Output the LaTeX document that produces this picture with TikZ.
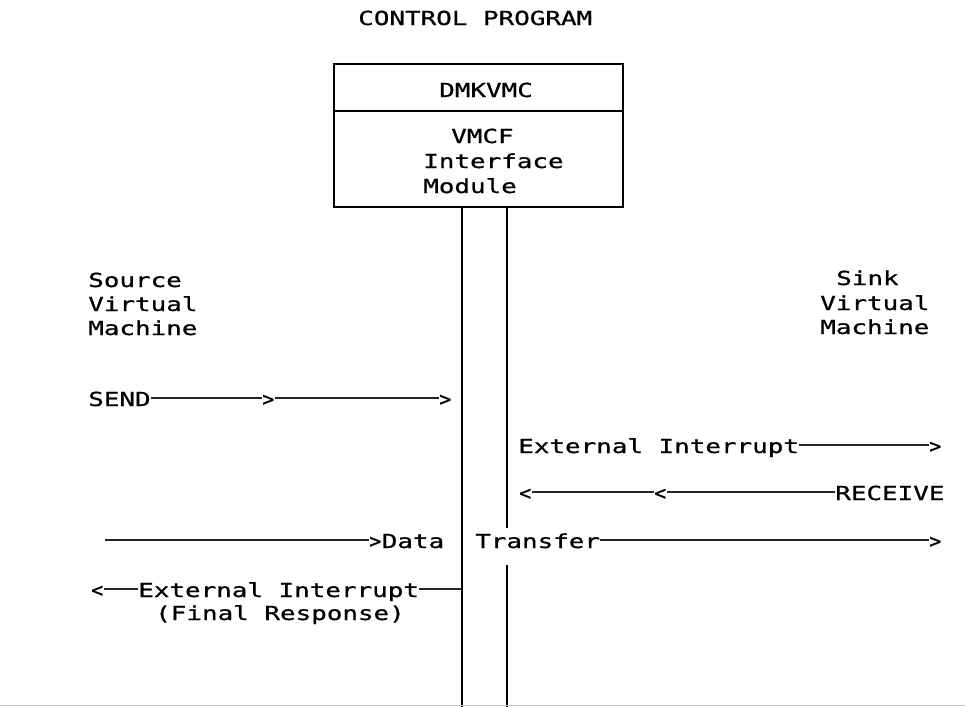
\documentclass[tikz,border=0pt]{standalone}
\usepackage{fontspec}
\setmonofont[FakeStretch=1.34,FakeBold=0.8]{DejaVu Sans Mono}
\newfontfamily\chevfont[FakeBold=0.8]{DejaVu Sans Mono}
\begin{document}
\begin{tikzpicture}[x=0.75pt,y=-0.75pt,
  lbl/.style={inner sep=0pt, anchor=base west, font=\ttfamily\fontsize{14.5pt}{17pt}\selectfont},
  chev/.style={inner sep=0pt, anchor=base west, font=\chevfont\fontsize{15pt}{17pt}\selectfont},
  wire/.style={line width=0.8pt, draw=black!85},
  frame/.style={line width=1.2pt, draw=black}]
\useasboundingbox (0,0) rectangle (965,707);

% control program module box
\node[lbl] (title) at (358,25) {CONTROL PROGRAM};
\node[frame, inner sep=0pt, minimum width=216.75pt, minimum height=107.25pt, anchor=north west] (box) at (333,63) {};
\coordinate (div) at (0,111);
\draw[frame] (box.west |- div) -- (box.east |- div);
\node[lbl] (dmk) at (439,97) {DMKVMC};
\node[lbl] (vmcf) at (451,143) {VMCF};
\node[lbl] (intf) at (423,168) {Interface};
\node[lbl] (mod) at (423,193) {Module};

% the two communication paths below the module
\coordinate (pa) at (462,707);
\coordinate (pb) at (507,707);
\coordinate (gapt) at (0,528);
\coordinate (gapb) at (0,565);
\draw[frame] (box.south -| pa) -- (pa);
\draw[frame] (box.south -| pb) -- (pb |- gapt);
\draw[frame] (pb |- gapb) -- (pb);

% virtual machines
\node[lbl] (src1) at (88,287) {Source};
\node[lbl] (src2) at (88,311) {Virtual};
\node[lbl] (src3) at (88,335) {Machine};
\node[lbl] (snk1) at (836,285) {Sink};
\node[lbl] (snk2) at (820,310) {Virtual};
\node[lbl] (snk3) at (820,334) {Machine};

% row heights of the connector lines
\coordinate (r1) at (0,398);
\coordinate (r2) at (0,445);
\coordinate (r3) at (0,492);
\coordinate (r4) at (0,540);
\coordinate (r5) at (0,589);

% SEND
\node[lbl] (send) at (88,406) {SEND};
\node[chev] (g1) at (262,406) {>};
\node[chev] (g2) at (439,406) {>};
\draw[wire] (send.east |- r1) -- (g1.west |- r1);
\draw[wire] (g1.east |- r1) -- (g2.west |- r1);

% external interrupt to the sink
\node[lbl] (ext) at (518,453) {External Interrupt};
\node[chev] (g3) at (929,453) {>};
\draw[wire] (ext.east |- r2) -- (g3.west |- r2);

% RECEIVE
\node[chev] (l1) at (519,500) {<};
\node[chev] (l2) at (654,500) {<};
\node[lbl] (recv) at (835,500) {RECEIVE};
\draw[wire] (l1.east |- r3) -- (l2.west |- r3);
\draw[wire] (l2.east |- r3) -- (recv.west |- r3);

% data transfer
\coordinate (dstart) at (105,540);
\node[chev] (g4) at (369,548) {>};
\node[lbl] (data) at (g4.base east) {Data};
\node[lbl] (xfer) at (475,548) {Transfer};
\node[chev] (g5) at (929,548) {>};
\draw[wire] (dstart) -- (g4.west |- r4);
\draw[wire] (xfer.east |- r4) -- (g5.west |- r4);

% final response back to the source
\node[chev] (l3) at (91,597) {<};
\node[lbl] (ext2) at (138,597) {External Interrupt};
\node[lbl] (final) at (155,620) {(Final Response)};
\draw[wire] (l3.east |- r5) -- (ext2.west |- r5);
\draw[wire] (ext2.east |- r5) -- (pa |- r5);

% page edge
\draw[gray!45, line width=0.6pt] (0,705) -- (965,705);
\end{tikzpicture}
\end{document}
